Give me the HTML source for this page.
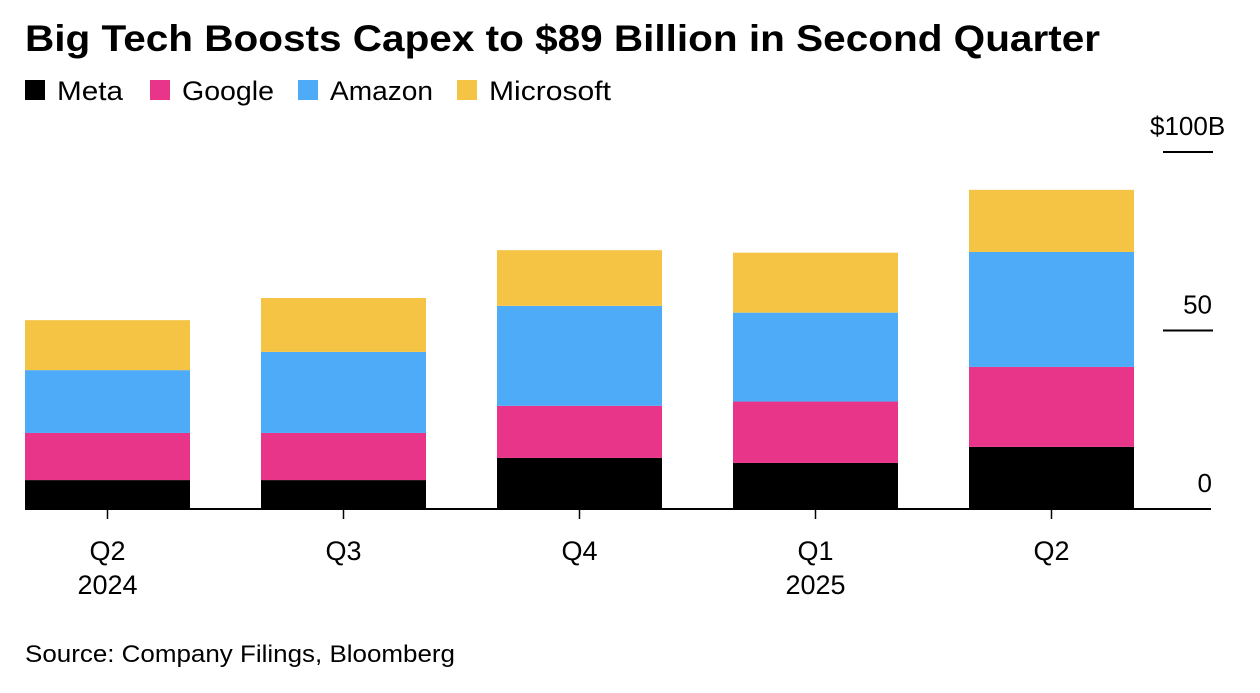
<!DOCTYPE html>
<html><head><meta charset="utf-8"><style>
body{margin:0;width:1260px;height:688px;background:#fff;font-family:"Liberation Sans",Arial,sans-serif;overflow:hidden}
</style></head><body>
<svg width="1260" height="688">
<text x="25" y="51" font-size="37" font-weight="bold" fill="#000" textLength="1075" lengthAdjust="spacingAndGlyphs">Big Tech Boosts Capex to $89 Billion in Second Quarter</text>
<g id="legend"></g>
<g id="axis"></g>
<g id="bars"></g>
<g id="xaxis"></g>
<text x="25" y="662" font-size="24" fill="#000" textLength="430" lengthAdjust="spacingAndGlyphs">Source: Company Filings, Bloomberg</text>
</svg>
<script>
const categories=["Q2","Q3","Q4","Q1","Q2"];
const years=["2024","","","2025",""];
const seriesNames=["Meta","Google","Amazon","Microsoft"];
const colors=["#000000","#e8358a","#4dabf7","#f5c445"];
const meta=[8.1,8.1,14.3,12.9,17.4];
const google=[13.2,13.2,14.6,17.2,22.4];
const amazon=[17.6,22.7,28.0,24.9,32.2];
const microsoft=[14.0,15.1,15.6,16.8,17.4];
const yTicks=[0,50,100];
const yTickLabels=["0","50","$100B"];
const series=[meta,google,amazon,microsoft];
const NS="http://www.w3.org/2000/svg";
function mk(t,a,p){const e=document.createElementNS(NS,t);for(const k in a)e.setAttribute(k,a[k]);p.appendChild(e);return e;}
const y0=509,ppu=(509-152)/100;
const y=v=>y0-v*ppu;
const x=i=>25+i*236;
const bw=165;
const lg=document.getElementById('legend');
const lx=[25,150,298,457];
const lw=[66,92,103,122];
seriesNames.forEach((n,i)=>{
 const r=mk('rect',{x:lx[i],y:80,width:20,height:20,fill:colors[i]},lg);
 
 
 const t=mk('text',{x:lx[i]+32,y:100,'font-size':27,fill:'#000',textLength:lw[i],lengthAdjust:'spacingAndGlyphs'},lg);t.textContent=n;
 
 
});
const ax=document.getElementById('axis');
yTicks.forEach((v,i)=>{
 if(v>0){const l=mk('line',{x1:1163,x2:1213,y1:y(v),y2:y(v),stroke:'#000','stroke-width':2},ax);
 }
 const t=mk('text',{x:v==100?1150:1212,y:y(v)-17,'font-size':26,fill:'#000','text-anchor':v==100?'start':'end'},ax);
 t.textContent=yTickLabels[i];
 
});
const bg=document.getElementById('bars');
categories.forEach((c,i)=>{
 let cum=0;
 series.forEach((s,k)=>{
  const r=mk('rect',{x:x(i),y:y(cum+s[i]),width:bw,height:s[i]*ppu,fill:colors[k]},bg);
  
  
  cum+=s[i];
 });
});
const xg=document.getElementById('xaxis');
const bl=mk('line',{x1:25,x2:1211,y1:y0,y2:y0,stroke:'#000','stroke-width':2},xg);

categories.forEach((c,i)=>{
 const cx=x(i)+bw/2;
 const tk=mk('line',{x1:cx,x2:cx,y1:y0,y2:y0+10,stroke:'#000','stroke-width':1.5},xg);
 
 const t=mk('text',{x:cx,y:560,'font-size':27,'text-anchor':'middle',fill:'#000'},xg);t.textContent=c;
 
 if(years[i]){const t2=mk('text',{x:cx,y:594,'font-size':27,'text-anchor':'middle',fill:'#000'},xg);t2.textContent=years[i];
 }
});
</script>
</body></html>
